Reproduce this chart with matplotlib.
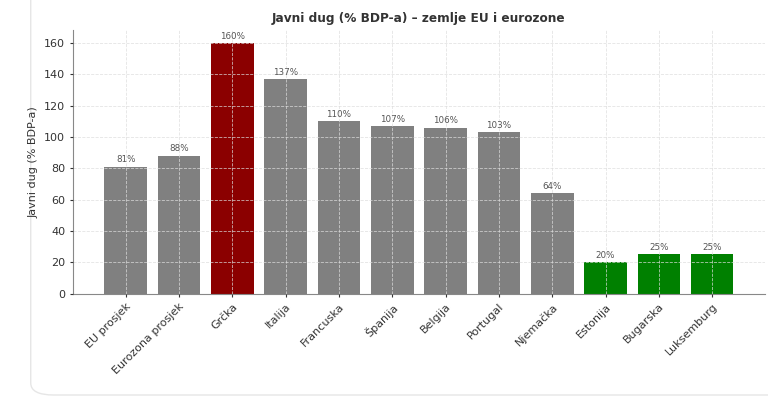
import matplotlib.pyplot as plt
from matplotlib.patches import FancyBboxPatch

zemlje = ["EU prosjek", "Eurozona prosjek", "Grčka", "Italija", "Francuska", "Španija",
          "Belgija", "Portugal", "Njemačka", "Estonija", "Bugarska", "Luksemburg"]
dug = [81, 88, 160, 137, 110, 107, 106, 103, 64, 20, 25, 25]
boje = ["gray", "gray", "darkred", "gray", "gray", "gray",
        "gray", "gray", "gray", "green", "green", "green"]

fig = plt.figure(figsize=(7.68, 3.99), dpi=100)
ax = fig.add_axes([0.095, 0.264, 0.901, 0.66])

# okvir kartice oko grafa
card = FancyBboxPatch((0.04, 0.01), 1.2, 1.2, boxstyle="round,pad=0,rounding_size=0.03",
                      transform=fig.transFigure, facecolor="none", edgecolor="#e6e6e6",
                      linewidth=1.0, zorder=-1)
fig.patches.append(card)

bars = ax.bar(zemlje, dug, color=boje, width=0.8)
ax.set_ylim(0, 168)

for b, v in zip(bars, dug):
    ax.text(b.get_x() + b.get_width() / 2, v + 1.5, f"{v}%", ha="center", va="bottom",
            fontsize=6.3, color="#555555")

ax.set_title("Javni dug (% BDP-a) – zemlje EU i eurozone", fontsize=8.7,
             fontweight="bold", color="#333333", pad=6)
ax.set_ylabel("Javni dug (% BDP-a)", fontsize=8, color="#333333")
ax.grid(True, linestyle="--", linewidth=0.6, color="#dddddd", alpha=0.8)
ax.set_axisbelow(False)
ax.spines["top"].set_visible(False)
ax.spines["right"].set_visible(False)
ax.spines["left"].set_color("#888888")
ax.spines["bottom"].set_color("#888888")
ax.tick_params(axis="both", labelsize=8, colors="#333333", length=2)
plt.setp(ax.get_xticklabels(), rotation=45, ha="right", rotation_mode="anchor")

fig.savefig("out.png", dpi=100)
